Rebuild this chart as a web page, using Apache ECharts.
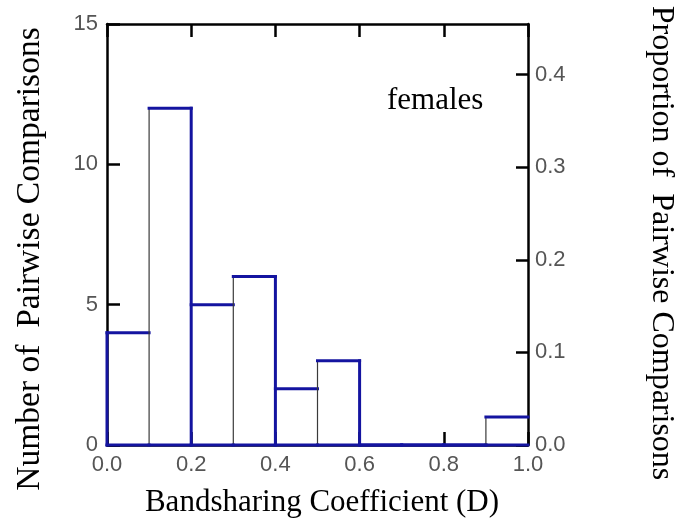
<!DOCTYPE html>
<html>
<head>
<meta charset="utf-8">
<script src="https://cdn.jsdelivr.net/npm/echarts@6/dist/echarts.min.js"></script>
<style>html,body{margin:0;padding:0;background:#fff}#c{width:682px;height:525px}</style>
</head>
<body>
<div id="c"></div>
<script>
// ---- data ----
const binStarts = [0.0, 0.1, 0.2, 0.3, 0.4, 0.5, 0.6, 0.7, 0.8, 0.9];
const counts    = [4, 12, 5, 6, 2, 3, 0, 0, 0, 1];
const binWidth = 0.1;
const xTickValues = [0.0, 0.2, 0.4, 0.6, 0.8, 1.0];
const leftTicks = [0, 5, 10, 15];
const rightTicks = [0.0, 0.1, 0.2, 0.3, 0.4];
const xTitle = 'Bandsharing Coefficient (D)';
const yTitleLeft = 'Number of  Pairwise Comparisons';
const yTitleRight = 'Proportion of  Pairwise Comparisons';
const panelLabel = 'females';

const total = counts.reduce((a, b) => a + b, 0);
const countMax = 15;
const xMax = 1.0;

const BLUE = '#1414a0';
const THIN = '#3a3a3a';
const W_THICK = 3;
const W_THIN = 1.2;

const chart = echarts.init(document.getElementById('c'), null, {renderer: 'canvas'});

const tickFont = {fontFamily: 'Liberation Sans, Arial, sans-serif', fontSize: 22, color: '#555'};

function renderItem(params, api) {
  const i = params.dataIndex;
  const x0 = api.value(0);
  const h = api.value(1);
  const x1 = x0 + binWidth;
  const prev = i > 0 ? counts[i - 1] : 0;
  const next = i < counts.length - 1 ? counts[i + 1] : 0;
  const pBL = api.coord([x0, 0]);
  const pTR = api.coord([x1, h]);
  const children = [];
  const line = (xa, ya, xb, yb, color, w) => children.push({
    type: 'line', shape: {x1: xa, y1: ya, x2: xb, y2: yb},
    style: {stroke: color, lineWidth: w, lineCap: 'square'}
  });
  // left edge
  if (h > 0) {
    if (i === 0) line(pBL[0], pBL[1], pBL[0], pTR[1], BLUE, W_THICK);
    else if (h > prev) line(pBL[0], pBL[1], pBL[0], pTR[1], THIN, W_THIN);
  }
  // right edge
  if (h > 0 && h > next && x1 < xMax - 1e-9) {
    line(pTR[0], pBL[1], pTR[0], pTR[1], BLUE, W_THICK);
  }
  // top and bottom
  line(pBL[0], pTR[1], pTR[0], pTR[1], BLUE, W_THICK);
  line(pBL[0], pBL[1], pTR[0], pBL[1], BLUE, W_THICK);
  return {type: 'group', children};
}

const axisLineStyle = {color: '#000', width: 2.5};

const option = {
  animation: false,
  backgroundColor: '#fff',
  grid: {left: 107, top: 24, width: 421, height: 421},
  xAxis: [
    {
      type: 'value', position: 'bottom', min: 0, max: xMax, interval: 0.2,
      axisLine: {show: true, lineStyle: axisLineStyle},
      axisTick: {show: true, inside: true, length: 13, lineStyle: axisLineStyle},
      axisLabel: Object.assign({margin: 9, formatter: v => v.toFixed(1)}, tickFont),
      splitLine: {show: false}
    },
    {
      type: 'value', position: 'top', min: 0, max: xMax, interval: 0.2,
      axisLine: {show: true, onZero: false, lineStyle: axisLineStyle},
      axisTick: {show: true, inside: true, length: 13, lineStyle: axisLineStyle},
      axisLabel: {show: false},
      splitLine: {show: false}
    }
  ],
  yAxis: [
    {
      type: 'value', position: 'left', min: 0, max: countMax, interval: 5,
      axisLine: {show: true, onZero: false, lineStyle: axisLineStyle},
      axisTick: {show: true, inside: true, length: 13, lineStyle: axisLineStyle},
      axisLabel: Object.assign({margin: 9}, tickFont),
      splitLine: {show: false}
    },
    {
      type: 'value', position: 'right', min: 0, max: countMax / total, interval: 0.1,
      axisLine: {show: true, onZero: false, lineStyle: axisLineStyle},
      axisTick: {show: true, inside: true, length: 12, lineStyle: axisLineStyle},
      axisLabel: Object.assign({margin: 7, showMaxLabel: false,
        formatter: v => (v <= rightTicks[rightTicks.length - 1] + 1e-9 ? v.toFixed(1) : '')}, tickFont),
      splitLine: {show: false}
    }
  ],
  series: [{
    type: 'custom',
    xAxisIndex: 0, yAxisIndex: 0,
    renderItem: renderItem,
    clip: false,
    z: 5,
    data: binStarts.map((b, k) => [b, counts[k]])
  }],
  graphic: [
    {type: 'text', x: 322, y: 503, style: {text: xTitle, font: '31px "Liberation Serif", "Times New Roman", serif', fill: '#000', align: 'center', verticalAlign: 'middle'}},
    {type: 'text', x: 30, y: 259, rotation: Math.PI / 2, style: {text: yTitleLeft, font: '33.5px "Liberation Serif", "Times New Roman", serif', fill: '#000', align: 'center', verticalAlign: 'middle'}},
    {type: 'text', x: 661, y: 243, rotation: -Math.PI / 2, style: {text: yTitleRight, font: '32px "Liberation Serif", "Times New Roman", serif', fill: '#000', align: 'center', verticalAlign: 'middle'}},
    {type: 'text', x: 387, y: 101, style: {text: panelLabel, font: '31px "Liberation Serif", "Times New Roman", serif', fill: '#000', align: 'left', verticalAlign: 'middle'}}
  ]
};
chart.setOption(option);
</script>
</body>
</html>
